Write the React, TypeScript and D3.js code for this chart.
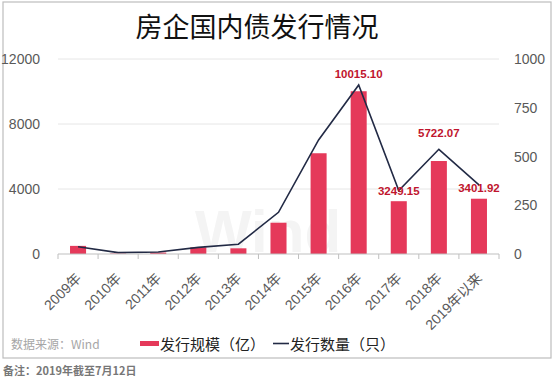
import React from "react";
import * as d3 from "d3";

const categories = ["2009年", "2010年", "2011年", "2012年", "2013年", "2014年", "2015年", "2016年", "2017年", "2018年", "2019年以来"];
const scaleValues = [500, 30, 90, 410, 350, 1925, 6200, 10015.1, 3249.15, 5722.07, 3401.92];
const countValues = [37, 7, 10, 34, 50, 214, 585, 867, 325, 537, 354];
const labelTexts = ["", "", "", "", "", "", "", "10015.10", "3249.15", "5722.07", "3401.92"];
const labelOffsets = [0, 0, 0, 0, 0, 0, 0, 13, 6, 24, 7];
const leftTicks = [0, 4000, 8000, 12000];
const rightTicks = [0, 250, 500, 750, 1000];

const W = 554, H = 378;
const m = { left: 58, right: 499, top: 59, bottom: 254 };
const CN = "'Noto Sans CJK SC', 'Liberation Sans', sans-serif";
const NUM = "'Liberation Sans', Arial, sans-serif";
const MIX = "'Liberation Sans', 'Noto Sans CJK SC', sans-serif";

export default function App() {
  const x = d3.scaleBand<string>().domain(categories).range([m.left, m.right]).paddingInner(0.6).paddingOuter(0.3);
  const xb = d3.scaleBand<string>().domain(categories).range([m.left, m.right]);
  const yL = d3.scaleLinear().domain([0, 12000]).range([m.bottom, m.top]);
  const yR = d3.scaleLinear().domain([0, 1000]).range([m.bottom, m.top]);
  const line = d3.line<number>().x((_, i) => xb(categories[i])! + xb.bandwidth() / 2).y((d) => yR(d));
  const boundaries = categories.map((c) => xb(c)!).concat([m.right]);

  return (
    <svg width={W} height={H} style={{ position: "absolute", left: 0, top: 0, background: "#fff" }}>
      <rect x={0} y={0} width={W} height={H} fill="#fff" />
      <rect x={3} y={2} width={548} height={356} fill="none" stroke="#bdbdbd" strokeWidth={1.2} />
      <text x={257} y={37} textAnchor="middle" fontFamily={CN} fontSize={27} fill="#111">房企国内债发行情况</text>

      {leftTicks.filter((t) => t > 0).map((t) => (
        <line key={t} x1={m.left} x2={m.right} y1={yL(t)} y2={yL(t)} stroke="#e6e6e6" strokeWidth={1} />
      ))}

      <text x={268} y={252} textAnchor="middle" fontFamily={NUM} fontWeight="bold" fontSize={60} fill="#f4f4f4">Wind</text>

      {scaleValues.map((v, i) => (
        <rect key={i} x={x(categories[i])} y={yL(v)} width={x.bandwidth()} height={m.bottom - yL(v)} fill="#e5395a" />
      ))}

      <path d={line(countValues)!} fill="none" stroke="#222a45" strokeWidth={1.6} />

      {scaleValues.map((v, i) =>
        labelTexts[i] ? (
          <text key={i} x={xb(categories[i])! + xb.bandwidth() / 2} y={yL(v) - labelOffsets[i]} textAnchor="middle"
            fontFamily={NUM} fontWeight="bold" fontSize={11.5} fill="#c0152d">{labelTexts[i]}</text>
        ) : null
      )}

      <line x1={m.left} x2={m.right} y1={m.bottom} y2={m.bottom} stroke="#bfbfbf" strokeWidth={1} />
      {boundaries.map((b, i) => (
        <line key={i} x1={b} x2={b} y1={m.bottom} y2={m.bottom + 5} stroke="#bfbfbf" strokeWidth={1} />
      ))}

      {leftTicks.map((t) => (
        <text key={t} x={40} y={yL(t) + 5} textAnchor="end" fontFamily={NUM} fontSize={14} fill="#595959">{t}</text>
      ))}
      {rightTicks.map((t) => (
        <text key={t} x={514} y={yR(t) + 5} textAnchor="start" fontFamily={NUM} fontSize={14} fill="#595959">{t}</text>
      ))}

      {categories.map((c, i) => {
        const cx = xb(c)! + xb.bandwidth() / 2;
        return (
          <text key={i} transform={`translate(${cx + 4},${m.bottom + 25}) rotate(-45)`} textAnchor="end"
            fontFamily={MIX} fontSize={14} fill="#595959">{c}</text>
        );
      })}

      <text x={11} y={349} fontFamily={CN} fontSize={12} fill="#a6a6a6">数据来源：Wind</text>
      <rect x={140} y={341} width={19} height={5} fill="#e5395a" />
      <text x={160} y={349.5} fontFamily={CN} fontSize={15} fill="#222">发行规模（亿）</text>
      <line x1={273} x2={289} y1={343.5} y2={343.5} stroke="#222a45" strokeWidth={1.6} />
      <text x={290} y={349.5} fontFamily={CN} fontSize={15} fill="#222">发行数量（只）</text>

      <text x={3} y={375} fontFamily={CN} fontSize={11} fontWeight="bold" fill="#777">备注：2019年截至7月12日</text>
    </svg>
  );
}
